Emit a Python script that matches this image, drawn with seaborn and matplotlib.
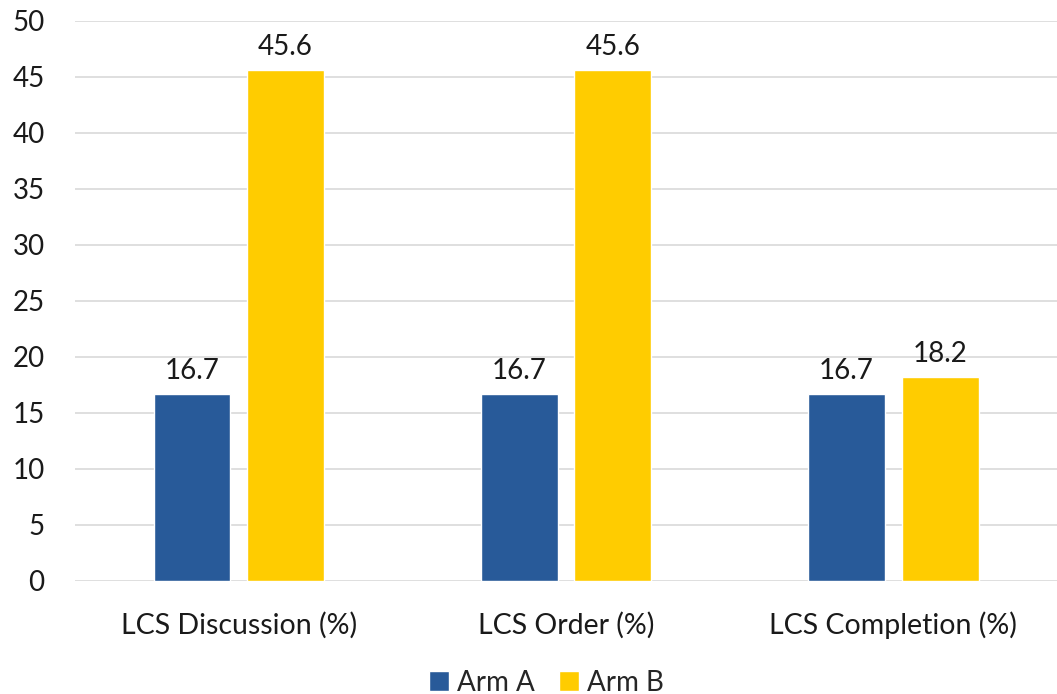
import numpy as np
import pandas as pd
import matplotlib
matplotlib.use("Agg")
import matplotlib.pyplot as plt
import seaborn as sns

# Data
categories = ['LCS Discussion (%)', 'LCS Order (%)', 'LCS Completion (%)']
arm_a = [16.7, 16.7, 16.7]
arm_b = [45.6, 45.6, 18.2]
arms = ['Arm A', 'Arm B']

df = pd.DataFrame({
    'category': categories * 2,
    'value': arm_a + arm_b,
    'arm': [arms[0]] * 3 + [arms[1]] * 3,
})

sns.set_theme(style='white')
plt.rcParams['font.family'] = ['Lato', 'DejaVu Sans']

fig = plt.figure(figsize=(10.57, 6.94), dpi=100)
ax = fig.add_axes([0.071, 0.163, 0.929, 0.807])

palette = {'Arm A': '#285A99', 'Arm B': '#FFCC00'}
sns.barplot(data=df, x='category', y='value', hue='arm', palette=palette,
            width=0.572, gap=0.18, ax=ax, saturation=1, legend=True)

for c in ax.containers:
    ax.bar_label(c, fmt='%.1f', padding=7, fontsize=20, color='#1a1a1a')

ax.set_ylim(0, 50)
ax.set_yticks(np.arange(0, 51, 5))
ax.set_xlim(-0.5, 2.5)
ax.yaxis.grid(True, color='#d9d9d9', linewidth=1.2)
ax.set_axisbelow(True)
for s in ax.spines.values():
    s.set_visible(False)
ax.set_xlabel('')
ax.set_ylabel('')
ax.tick_params(axis='y', labelsize=20, pad=22, length=0, labelcolor='#1a1a1a')
ax.tick_params(axis='x', labelsize=20.5, pad=22, length=0, labelcolor='#1a1a1a')

handles, labels = ax.get_legend_handles_labels()
ax.legend(handles, labels, loc='center', bbox_to_anchor=(0.48, -0.182),
          ncol=2, frameon=False, fontsize=20, handlelength=0.72, handleheight=0.72,
          handletextpad=0.29, columnspacing=0.9, borderaxespad=0, borderpad=0)

fig.savefig('out.png', dpi=100)
